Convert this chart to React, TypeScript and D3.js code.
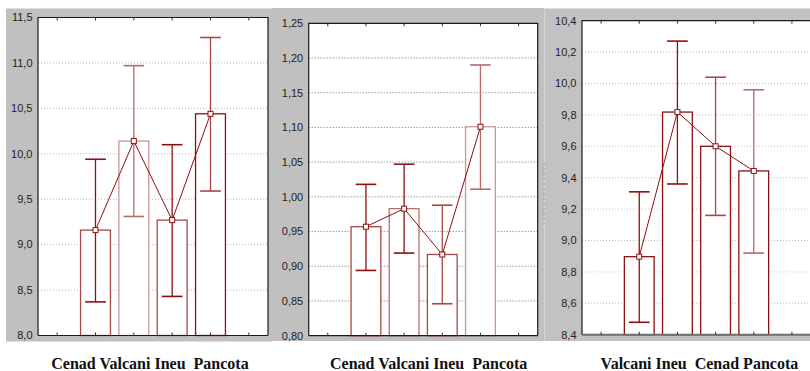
import React from "react";
import * as d3 from "d3";

// ---- data ----
const cats1 = ["Cenad", "Valcani", "Ineu", "Pancota"];
const mean1 = [9.16, 10.14, 9.27, 10.44];
const upper1 = [9.94, 10.97, 10.1, 11.28];
const lower1 = [8.37, 9.31, 8.43, 9.59];
const ticks1 = [8.0, 8.5, 9.0, 9.5, 10.0, 10.5, 11.0, 11.5];

const cats2 = ["Cenad", "Valcani", "Ineu", "Pancota"];
const mean2 = [0.957, 0.983, 0.917, 1.101];
const upper2 = [1.018, 1.047, 0.988, 1.19];
const lower2 = [0.894, 0.919, 0.846, 1.011];
const ticks2 = [0.8, 0.85, 0.9, 0.95, 1.0, 1.05, 1.1, 1.15, 1.2, 1.25];

const cats3 = ["Valcani", "Ineu", "Cenad", "Pancota"];
const mean3 = [8.897, 9.818, 9.6, 9.443];
const upper3 = [9.31, 10.27, 10.04, 9.96];
const lower3 = [8.479, 9.36, 9.16, 8.92];
const ticks3 = [8.4, 8.6, 8.8, 9.0, 9.2, 9.4, 9.6, 9.8, 10.0, 10.2, 10.4];

const labels1 = "Cenad Valcani Ineu  Pancota";
const labels2 = "Cenad Valcani Ineu  Pancota";
const labels3 = "Valcani Ineu  Cenad Pancota";

// ---- styles ----
const DARK = "#8e0f0f";
const MID = "#a84848";
const LIGHT = "#cc9696";

type Panel = {
  cats: string[];
  mean: number[];
  upper: number[];
  lower: number[];
  ticks: number[];
  decimals: number;
  x0: number;
  x1: number;
  top: number;
  bottom: number;
  gridColor: string;
  barColors: string[];
  errColors: string[];
  bottomLine: string;
  bottomWidth: number;
  label: string;
  labelX: number;
};

const panels: Panel[] = [
  {
    cats: cats1, mean: mean1, upper: upper1, lower: lower1, ticks: ticks1, decimals: 1,
    x0: 38, x1: 268, top: 17.5, bottom: 335.5, gridColor: "#b4b4b4",
    barColors: [MID, LIGHT, MID, DARK], errColors: [DARK, "#b86a6a", DARK, MID],
    bottomLine: "#1a1a1a", bottomWidth: 1.2, label: labels1, labelX: 150,
  },
  {
    cats: cats2, mean: mean2, upper: upper2, lower: lower2, ticks: ticks2, decimals: 2,
    x0: 308.7, x1: 537.7, top: 23.3, bottom: 335.7, gridColor: "#6a6a6a",
    barColors: [MID, "#b87070", MID, LIGHT], errColors: [DARK, DARK, MID, "#b86a6a"],
    bottomLine: "#1a1a1a", bottomWidth: 1.2, label: labels2, labelX: 428.7,
  },
  {
    cats: cats3, mean: mean3, upper: upper3, lower: lower3, ticks: ticks3, decimals: 1,
    x0: 582, x1: 811, top: 20.7, bottom: 334.7, gridColor: "#c0c0c0",
    barColors: [DARK, DARK, DARK, DARK], errColors: [DARK, DARK, MID, "#b86a6a"],
    bottomLine: "#6e6e6e", bottomWidth: 2, label: labels3, labelX: 699.4,
  },
];

function PanelView({ p }: { p: Panel }) {
  const slots = d3.range(6);
  const xb = d3.scaleBand<number>().domain(slots).range([p.x0, p.x1]);
  const cx = (i: number) => (xb(i) as number) + xb.bandwidth() / 2;
  const lo = p.ticks[0];
  const hi = p.ticks[p.ticks.length - 1];
  const y = d3.scaleLinear().domain([lo, hi]).range([p.bottom, p.top]);
  const fmt = (v: number) => v.toFixed(p.decimals).replace(".", ",");
  const halfBar = xb.bandwidth() * 0.39;
  const halfCap = xb.bandwidth() * 0.27;
  const line = d3
    .line<number>()
    .x((_, i) => cx(i + 1))
    .y((d) => y(d));
  return (
    <g>
      <rect x={p.x0} y={p.top} width={p.x1 - p.x0} height={p.bottom - p.top} fill="#ffffff" />
      {p.ticks.slice(1, -1).map((t) => (
        <line key={"g" + t} x1={p.x0} x2={p.x1} y1={y(t)} y2={y(t)} stroke={p.gridColor} strokeWidth={1} strokeDasharray="1,2" />
      ))}
      {p.ticks.map((t) => (
        <text key={"t" + t} x={p.x0 - 5.5} y={y(t)} dy="0.35em" textAnchor="end" fontFamily="Liberation Sans, Arial, sans-serif" fontSize={11} fill="#222">
          {fmt(t)}
        </text>
      ))}
      {/* bars */}
      {p.mean.map((m, i) => (
        <rect key={"b" + i} x={cx(i + 1) - halfBar} y={y(m)} width={halfBar * 2} height={y(lo) - y(m)} fill="#fff" stroke={p.barColors[i]} strokeWidth={1.3} />
      ))}
      {/* error bars */}
      {p.mean.map((_, i) => (
        <g key={"e" + i} stroke={p.errColors[i]} strokeWidth={1.3}>
          <line x1={cx(i + 1)} x2={cx(i + 1)} y1={y(p.upper[i])} y2={y(p.lower[i])} />
          <line x1={cx(i + 1) - halfCap} x2={cx(i + 1) + halfCap} y1={y(p.upper[i])} y2={y(p.upper[i])} strokeWidth={1.6} />
          <line x1={cx(i + 1) - halfCap} x2={cx(i + 1) + halfCap} y1={y(p.lower[i])} y2={y(p.lower[i])} strokeWidth={1.6} />
        </g>
      ))}
      <path d={line(p.mean) || ""} fill="none" stroke={DARK} strokeWidth={1} />
      {p.mean.map((m, i) => (
        <rect key={"m" + i} x={cx(i + 1) - 2.5} y={y(m) - 2.5} width={5} height={5} fill="#fff" stroke={DARK} strokeWidth={1} />
      ))}
      {/* frame */}
      <path d={`M${p.x0},${p.bottom} V${p.top} H${p.x1} V${p.bottom}`} fill="none" stroke="#1a1a1a" strokeWidth={1.2} />
      <line x1={p.x0} x2={p.x1} y1={p.bottom} y2={p.bottom} stroke={p.bottomLine} strokeWidth={p.bottomWidth} />
      {slots.map((s) => (
        <g key={"k" + s} stroke="#333" strokeWidth={1}>
          <line x1={cx(s)} x2={cx(s)} y1={p.top} y2={p.top + 3} />
          <line x1={cx(s)} x2={cx(s)} y1={p.bottom} y2={p.bottom - 3} />
        </g>
      ))}
      <text x={p.labelX} y={369} textAnchor="middle" fontFamily="Liberation Serif, Times New Roman, serif" fontWeight="bold" fontSize={16} fill="#111" style={{ whiteSpace: "pre" }}>
        {p.label}
      </text>
    </g>
  );
}

export default function App() {
  return (
    <svg width={810} height={371} style={{ position: "absolute", left: 0, top: 0, background: "#fff" }}>
      <rect x={6} y={8.5} width={266} height={333} fill="#c0c0c0" />
      <rect x={272} y={8} width={272} height={333} fill="#c0c0c0" />
      <rect x={545} y={8.5} width={265} height={332.5} fill="#c2c2c2" />
      <line x1={544.5} x2={544.5} y1={8} y2={341} stroke="#d4d4d4" strokeWidth={1} />
      <line x1={544} x2={544} y1={163} y2={224} stroke="#9a9a9a" strokeWidth={1} strokeDasharray="2,3" />
      {panels.map((p, i) => (
        <PanelView key={i} p={p} />
      ))}
    </svg>
  );
}
